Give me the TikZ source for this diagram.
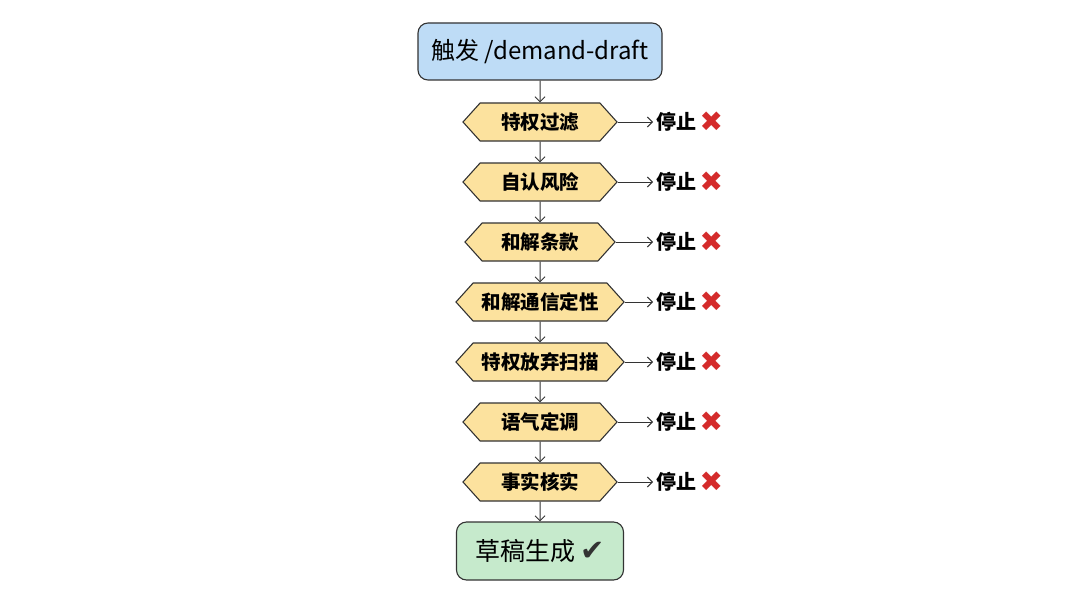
\documentclass[tikz,border=0pt]{standalone}
\usepackage{fontspec}
\setmainfont{Noto Sans CJK SC}
\newfontfamily\symb{DejaVu Sans}
\usetikzlibrary{shapes.symbols,arrows.meta}
\definecolor{boxblue}{HTML}{BEDCF6}
\definecolor{hexfill}{HTML}{FCE29E}
\definecolor{boxgreen}{HTML}{C6EACC}
\definecolor{linec}{HTML}{333333}
\definecolor{xred}{HTML}{D42B2B}
\begin{document}
\begin{tikzpicture}[x=1pt,y=-1pt,
  topbox/.style={draw=linec,line width=1.1pt,fill=boxblue,rounded corners=10pt,minimum width=244pt,minimum height=57pt,font=\fontsize{24}{27}\selectfont,inner sep=0pt},
  endbox/.style={draw=linec,line width=1.1pt,fill=boxgreen,rounded corners=10pt,minimum width=167pt,minimum height=58pt,font=\fontsize{25}{28}\selectfont,inner sep=0pt},
  hex/.style={draw=linec,line width=1.1pt,fill=hexfill,shape=signal,signal to=west and east,signal pointer angle=96,minimum height=38pt,inner sep=0pt,font=\fontsize{19.5}{22}\selectfont\bfseries},
  stop/.style={anchor=west,inner sep=0pt,font=\fontsize{20}{22}\selectfont\bfseries},
  arr/.style={draw=linec,line width=1pt,-{Straight Barb[length=5pt,width=10pt]}}
]
\useasboundingbox (0,0) rectangle (1080,602);
\node[topbox] (t) at (540,51.5) {触发 /demand-draft};
\node[hex,minimum width=154pt] (h1) at (540,122) {特权过滤};
\node[hex,minimum width=154pt] (h2) at (540,182) {自认风险};
\node[hex,minimum width=150pt] (h3) at (540,242) {和解条款};
\node[hex,minimum width=168pt] (h4) at (540,302) {和解通信定性};
\node[hex,minimum width=168pt] (h5) at (540,362) {特权放弃扫描};
\node[hex,minimum width=154pt] (h6) at (540,422) {语气定调};
\node[hex,minimum width=154pt] (h7) at (540,482) {事实核实};
\node[endbox] (e) at (540,551) {草稿生成 {\symb\fontsize{29}{30}\selectfont\color{linec}✔}};
\foreach \i in {1,...,7}{
  \node[stop] (s\i) at (656,{62+60*\i}) {停止\,\raisebox{-2pt}{\symb\fontsize{28}{28}\selectfont\color{xred}✖}};
  \draw[arr] (h\i.east) -- ([xshift=-3pt]s\i.west);
}
\draw[arr] (t) -- (h1);
\draw[arr] (h1) -- (h2);
\draw[arr] (h2) -- (h3);
\draw[arr] (h3) -- (h4);
\draw[arr] (h4) -- (h5);
\draw[arr] (h5) -- (h6);
\draw[arr] (h6) -- (h7);
\draw[arr] (h7) -- (e);
\end{tikzpicture}
\end{document}
